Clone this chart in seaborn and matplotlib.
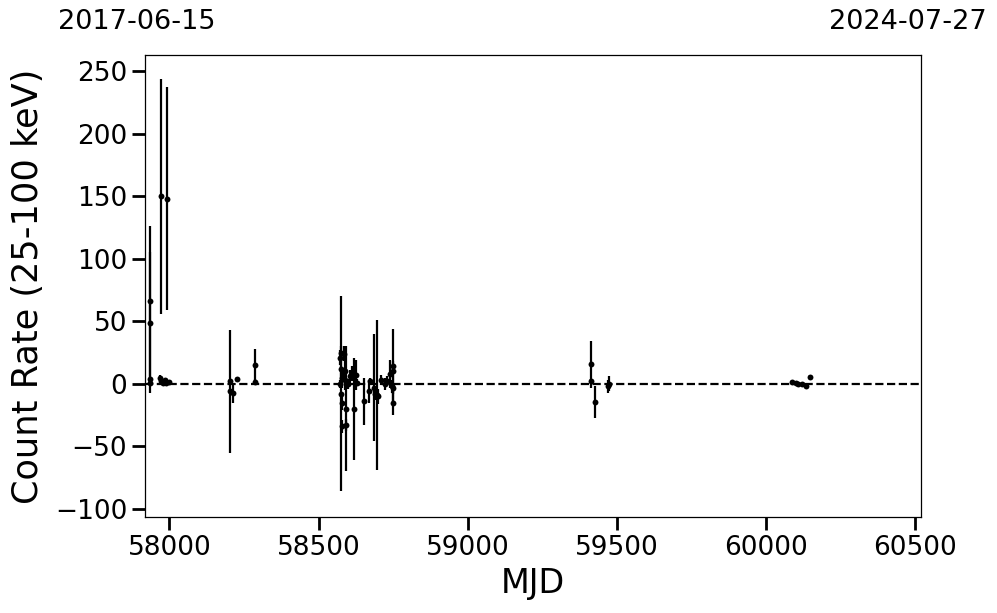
import numpy as np
import pandas as pd
import matplotlib
matplotlib.use("Agg")
import matplotlib.pyplot as plt
import seaborn as sns

sns.set_style("ticks", {"axes.edgecolor": "black", "text.color": "black",
                        "axes.labelcolor": "black", "xtick.color": "black",
                        "ytick.color": "black"})
plt.rcParams['font.family'] = ['DejaVu Sans']

# light curve values
mjd = [57934, 57934, 57935, 57934, 57972, 57993,
       57968, 57973, 57978, 57985, 57990, 57997,
       58204, 58204, 58213, 58226, 58288, 58288,
       58571, 58574, 58575, 58573, 58576, 58577, 58578, 58592, 58593,
       58585, 58580, 58582, 58588, 58590, 58598, 58605, 58612, 58620,
       58625, 58630, 58651, 58668, 58673, 58686, 58690, 58696, 58700,
       58710, 58722, 58730, 58738, 58745, 58749, 58750, 58750, 58751,
       59415, 59415, 59427, 59471, 59474,
       60086, 60102, 60109, 60122, 60136, 60148]
rate = [66, 49, 3.5, 1, 150, 148,
        5, 2, 1, 3, 0.5, 1.5,
        -6, 2, -7, 3.5, 15, 1.5,
        0, -8, 25, 21, 12, 5, -34, -20, -33,
        24, -15, 8, 3, 10, 0, 6, 8, -20,
        7, 1, -14, -6, 2, -3, -8, -9, -10,
        3, 0, 2, 8, -2, 14, 10, -15, -3,
        15.5, 2, -14.5, -2, 0,
        1.5, 1, -0.5, 0, -2, 5.5]
err = [60, 56, 3, 2, 94, 89,
       2, 2, 1.5, 2, 1, 1,
       49, 2, 8, 2, 13, 2,
       3, 78, 5, 6, 10, 8, 5, 50, 5,
       6, 6, 5, 8, 12, 4, 5, 6, 41,
       12, 3, 19, 9, 3, 43, 5, 60, 6,
       4, 5, 4, 11, 5, 30, 8, 10, 5,
       18.5, 2, 13, 5, 6,
       1, 1, 1.5, 1, 1.5, 1.5]

date_start = "2017-06-15"
date_end = "2024-07-27"
mjd_start, mjd_end = 57919, 60519

df = pd.DataFrame({"MJD": mjd, "rate": rate, "err": err})

fig = plt.figure(figsize=(9.97, 6.13), dpi=100)
ax = fig.add_axes([0.1457, 0.1566, 0.7778, 0.7537])

ax.errorbar(df["MJD"], df["rate"], yerr=df["err"], fmt="none",
            ecolor="black", elinewidth=1.6, capsize=0, zorder=2)
sns.scatterplot(data=df, x="MJD", y="rate", color="black", s=18,
                edgecolor="black", linewidth=0, ax=ax, zorder=3)
ax.axhline(0, color="black", ls="--", lw=1.6, zorder=4)

ax.set_xlim(mjd_start, mjd_end)
ax.set_ylim(-106.4, 262.8)
ax.set_xticks(np.arange(58000, 60501, 500))
ax.set_yticks(np.arange(-100, 251, 50))
ax.tick_params(axis="both", labelsize=19, length=9.5, width=2, color="black")
for s in ax.spines.values():
    s.set_linewidth(0.9)

ax.set_xlabel("MJD", fontsize=24)
ax.set_ylabel("Count Rate (25-100 keV)", fontsize=25.3, labelpad=7)

fig.text(136.5 / 997, 1 - 22 / 613, date_start, fontsize=19.5,
         ha="center", va="center")
fig.text(907.5 / 997, 1 - 22 / 613, date_end, fontsize=19.5,
         ha="center", va="center")

fig.savefig("out.png", dpi=100)
